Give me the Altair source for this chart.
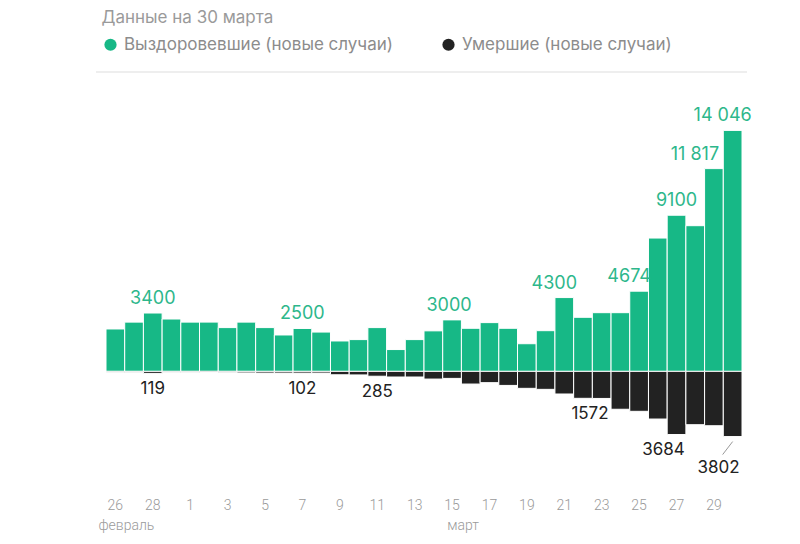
import altair as alt
import pandas as pd

dates = ["02-26", "02-27", "02-28", "02-29",
         "03-01", "03-02", "03-03", "03-04", "03-05", "03-06", "03-07", "03-08", "03-09", "03-10",
         "03-11", "03-12", "03-13", "03-14", "03-15", "03-16", "03-17", "03-18", "03-19", "03-20",
         "03-21", "03-22", "03-23", "03-24", "03-25", "03-26", "03-27", "03-28", "03-29", "03-30"]

recovered = [2470, 2870, 3400, 3050, 2870, 2870, 2550, 2870, 2550, 2120, 2500, 2290, 1770, 1850,
             2550, 1270, 1850, 2360, 3000, 2510, 2840, 2510, 1610, 2370, 4300, 3150, 3420, 3420,
             4674, 7770, 9100, 8490, 11817, 14046]

deaths = [60, 50, 119, 60, 60, 70, 75, 90, 100, 100, 102, 100, 200, 210, 285, 330, 330, 450,
          410, 740, 660, 820, 990, 1050, 1320, 1572, 1580, 2210, 2330, 2780, 3684, 3110, 3170, 3802]

tick_dates = ["02-26", "02-28", "03-01", "03-03", "03-05", "03-07", "03-09", "03-11", "03-13",
              "03-15", "03-17", "03-19", "03-21", "03-23", "03-25", "03-27", "03-29"]

month_names = ["февраль", "март"]
month_dates = ["02-26", "03-15"]

series_names = ["Выздоровевшие (новые случаи)", "Умершие (новые случаи)"]

rec_label_dates = ["02-28", "03-07", "03-15", "03-21", "03-25", "03-27", "03-29", "03-30"]
rec_label_texts = ["3400", "2500", "3000", "4300", "4674", "9100", "11 817", "14 046"]

death_label_dates = ["02-28", "03-07", "03-11", "03-22", "03-27", "03-30"]
death_label_texts = ["119", "102", "285", "1572", "3684", "3802"]

GREEN = "#17b886"
GREEN_TXT = "#2db78b"
DARK = "#222222"
GREY = "#9a9a9a"

rows = []
for d, r, k in zip(dates, recovered, deaths):
    rows.append({"date": d, "series": series_names[0], "value": r, "signed": r})
    rows.append({"date": d, "series": series_names[1], "value": k, "signed": -k})
df = pd.DataFrame(rows)

rec_map = dict(zip(dates, recovered))
death_map = dict(zip(dates, deaths))
rec_lab = pd.DataFrame({"date": rec_label_dates, "text": rec_label_texts,
                        "signed": [rec_map[d] for d in rec_label_dates]})
death_lab = pd.DataFrame({"date": death_label_dates, "text": death_label_texts,
                          "signed": [-death_map[d] for d in death_label_dates]})
months = pd.DataFrame({"date": month_dates, "text": month_names})

x_enc = alt.X("date:O", sort=dates,
              scale=alt.Scale(domain=dates, paddingInner=0, paddingOuter=0),
              axis=alt.Axis(values=tick_dates, title=None, domain=False, ticks=False, grid=False,
                            labelAngle=0, labelExpr="toNumber(slice(datum.value, 3))",
                            labelFont="Roboto", labelFontSize=14, labelFontWeight=300,
                            labelColor=GREY, labelPadding=10))
y_enc = alt.Y("signed:Q", scale=alt.Scale(domain=[-6800, 16400], nice=False, zero=False), axis=None)

bars = alt.Chart(df).mark_bar(stroke="white", strokeWidth=1).encode(
    x=x_enc, y=y_enc, y2=alt.datum(0),
    color=alt.Color("series:N", sort=series_names,
                    scale=alt.Scale(domain=series_names, range=[GREEN, DARK]),
                    legend=alt.Legend(orient="none", legendX=-4, legendY=-54, direction="horizontal",
                                      title=None, symbolType="circle", symbolSize=150,
                                      symbolStrokeWidth=0, labelFont="Inter", labelFontSize=17,
                                      labelColor="#8c8c8c", labelOffset=5, columnPadding=47,
                                      padding=0, labelLimit=400)),
)


def rec_text(sel, dx):
    return alt.Chart(rec_lab).transform_filter(
        alt.FieldOneOfPredicate(field="date", oneOf=sel)
    ).mark_text(font="Inter", fontSize=18, color=GREEN_TXT, baseline="bottom", dy=-5, dx=dx).encode(
        x=x_enc, y=y_enc, text="text:N")


def death_text(sel, dx, dy):
    return alt.Chart(death_lab).transform_filter(
        alt.FieldOneOfPredicate(field="date", oneOf=sel)
    ).mark_text(font="Inter", fontSize=17, color=DARK, baseline="top", dy=dy, dx=dx).encode(
        x=x_enc, y=y_enc, text="text:N")


labels = [
    rec_text(["02-28", "03-07", "03-27"], 0),
    rec_text(["03-15"], -3),
    rec_text(["03-21", "03-25", "03-30"], -10),
    rec_text(["03-29"], -19),
    death_text(["02-28", "03-07", "03-11"], 0, 8),
    death_text(["03-22"], 7, 8),
    death_text(["03-27"], -13, 7),
    death_text(["03-30"], -14, 23),
]

leader = alt.Chart(death_lab).transform_filter(
    alt.FieldEqualPredicate(field="date", equal="03-30")
).mark_rule(color="#999999", strokeWidth=1, yOffset=5, y2Offset=18, x2Offset=-10).encode(
    x=x_enc, x2=alt.X2("date:O"), y=y_enc, y2=alt.Y2("signed:Q"))

month_text = alt.Chart(months).mark_text(
    font="Roboto", fontSize=14, fontWeight=300, color=GREY, baseline="middle", dx=11
).encode(x=x_enc, y=alt.value(436), text="text:N")

separator = alt.Chart(pd.DataFrame({"k": [0]})).mark_rule(color="#dddddd", strokeWidth=1).encode(
    x=alt.value(-10), x2=alt.value(641), y=alt.value(-18))

chart = alt.layer(bars, *labels, leader, month_text, separator).properties(
    width=636, height=398,
    title=alt.TitleParams("Данные на 30 марта", anchor="start", font="Inter", fontSize=17,
                          fontWeight="normal", color=GREY, offset=9, dx=6),
    autosize=alt.AutoSizeParams(type="none"),
    padding={"left": 98, "top": 82, "right": 40, "bottom": 50},
).configure_view(stroke=None)

chart.save("out.html", embed_options={"renderer": "svg", "actions": False})
